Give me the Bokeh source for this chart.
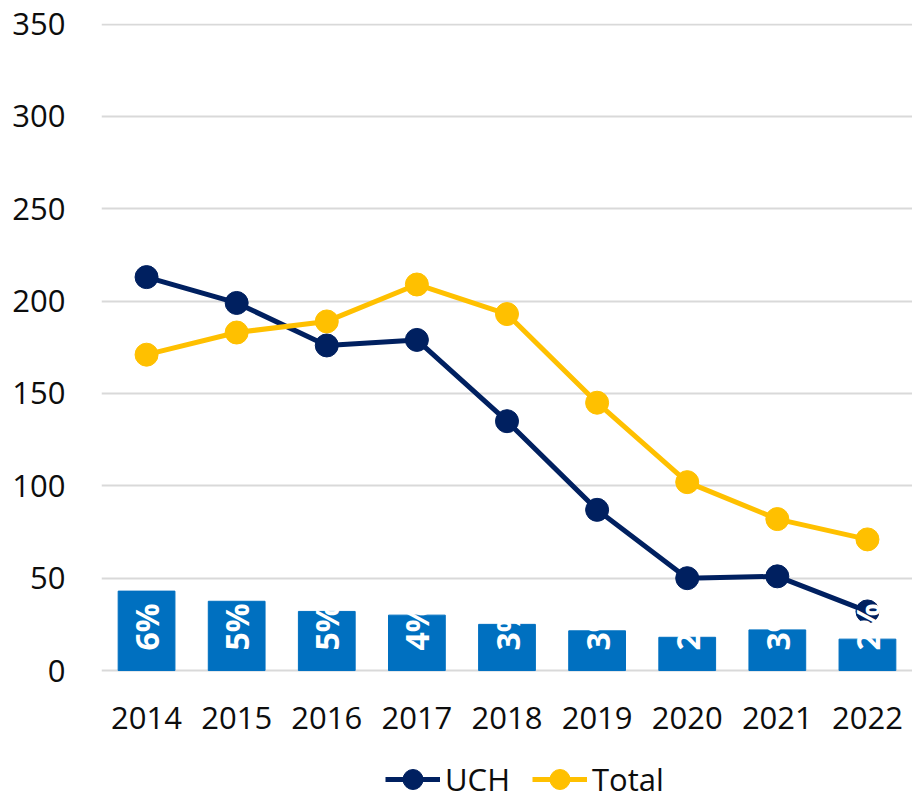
from bokeh.plotting import figure
from bokeh.models import ColumnDataSource, FactorRange, Range1d, Legend, LegendItem, FixedTicker
from bokeh.core.properties import value
from bokeh.embed import file_html
from bokeh.resources import INLINE
import math

years = ["2014", "2015", "2016", "2017", "2018", "2019", "2020", "2021", "2022"]
uch = [213, 199, 176, 179, 135, 87, 50, 51, 32]
total = [171, 183, 189, 209, 193, 145, 102, 82, 71]
bar_vals = [43, 37.5, 32, 30, 25, 21.5, 18, 22, 17]
bar_labels = ["6%", "5%", "5%", "4%", "3%", "3%", "2%", "3%", "2%"]
y_ticks = [0, 50, 100, 150, 200, 250, 300, 350]

FONT = "Open Sans"
NAVY = "#002060"
GOLD = "#FFC000"
BLUE = "#0070C0"

src = ColumnDataSource(dict(x=years, uch=uch, total=total, bar=bar_vals,
                            lab=bar_labels, zero=[0] * len(years)))

# frame extends below zero to host the axis labels and legend
p = figure(width=912, height=801, x_range=FactorRange(*years, range_padding=0),
           y_range=Range1d(-70.9, 350.3), output_backend="svg", toolbar_location=None,
           min_border_left=101, min_border_right=0, min_border_top=23, min_border_bottom=0)
p.outline_line_color = None
p.background_fill_color = "white"

p.vbar(x="x", top="bar", width=0.63, source=src, color=BLUE)
l1 = p.line(x="x", y="uch", source=src, line_color=NAVY, line_width=5)
s1 = p.scatter(x="x", y="uch", source=src, size=23, fill_color=NAVY, line_color=NAVY)
l2 = p.line(x="x", y="total", source=src, line_color=GOLD, line_width=5)
s2 = p.scatter(x="x", y="total", source=src, size=23, fill_color=GOLD, line_color=GOLD)

p.text(x="x", y="zero", text="lab", source=src, angle=math.pi / 2, y_offset=-20,
       text_align="left", text_baseline="middle", text_color="white",
       text_font=value(FONT), text_font_size="32px", text_font_style="bold")

p.yaxis.ticker = FixedTicker(ticks=y_ticks)
p.ygrid.grid_line_color = "#D9D9D9"
p.ygrid.grid_line_width = 2
p.xgrid.grid_line_color = None
p.xaxis.fixed_location = 0

for ax in (p.xaxis[0], p.yaxis[0]):
    ax.axis_line_color = None
    ax.major_tick_line_color = None
    ax.minor_tick_line_color = None
    ax.major_label_text_font = FONT
    ax.major_label_text_font_size = "31px"
    ax.major_label_text_color = "#0d0d0d"
p.yaxis.major_label_standoff = 30
p.xaxis.major_label_standoff = 30

legend = Legend(items=[LegendItem(label="UCH", renderers=[l1, s1]),
                       LegendItem(label="Total", renderers=[l2, s2])],
                orientation="horizontal", location=(284, -3))
legend.label_text_font = FONT
legend.label_text_font_size = "31px"
legend.label_text_color = "#0d0d0d"
legend.glyph_width = 55
legend.glyph_height = 50
legend.label_height = 30
legend.label_standoff = 5
legend.spacing = 22
legend.border_line_color = None
legend.background_fill_alpha = 0
legend.margin = 0
legend.padding = 0
p.add_layout(legend, "center")

open("out.html", "w").write(file_html(p, INLINE))
